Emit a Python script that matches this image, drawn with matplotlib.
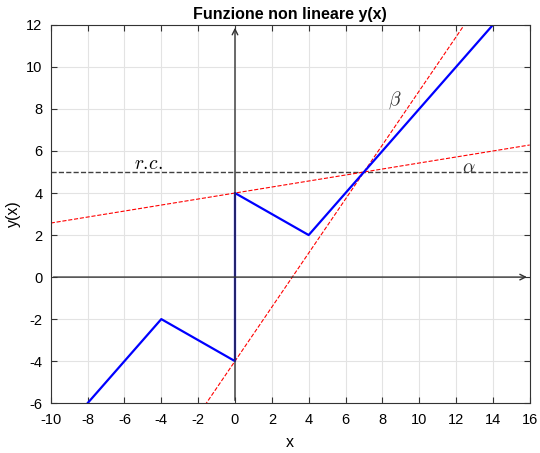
import numpy as np
import matplotlib
matplotlib.use('Agg')
import matplotlib.pyplot as plt

plt.rcParams['font.family'] = ['Liberation Sans', 'DejaVu Sans']
plt.rcParams['mathtext.fontset'] = 'cm'
plt.rcParams['axes.unicode_minus'] = False

# piecewise function y(x)
x_f = [-8, -4, 0, 0, 4, 14]
y_f = [-6, -2, -4, 4, 2, 12]

# tangent lines through the fixed point (7, 5)
x_lines = [-10, 16]
alpha_q, alpha_m = 4, 1 / 7
beta_q, beta_m = -4, 9 / 7
y_rc = 5

x_ticks = list(range(-10, 17, 2))
y_ticks = list(range(-6, 13, 2))

fig = plt.figure(figsize=(5.4, 4.53), dpi=100)
ax = fig.add_axes([0.094, 0.110, 0.887, 0.835])

ax.grid(True, color='#e3e3e3', linewidth=0.8)
ax.set_axisbelow(True)

xl = np.array(x_lines, dtype=float)
ax.plot(xl, [y_rc, y_rc], '--', color='#404040', linewidth=1.0)
ax.plot(xl, alpha_q + alpha_m * xl, '--', color='red', linewidth=0.8)
ax.plot(xl, beta_q + beta_m * xl, '--', color='red', linewidth=0.8)
ax.plot(x_f, y_f, color='blue', linewidth=1.6)

# cartesian axes with arrows
ax.annotate('', xy=(16, 0), xytext=(-10, 0),
            arrowprops=dict(arrowstyle='->', color='#333333', lw=1.0))
ax.annotate('', xy=(0, 12), xytext=(0, -6),
            arrowprops=dict(arrowstyle='->', color='#333333', lw=1.0))

ax.text(-5.5, 5.15, r'$r.\!c.$', fontsize=14)
ax.text(8.3, 8.2, r'$\beta$', fontsize=14, color='#333333')
ax.text(12.3, 4.95, r'$\alpha$', fontsize=14, color='#333333')

ax.set_xlim(-10, 16)
ax.set_ylim(-6, 12)
ax.set_xticks(x_ticks)
ax.set_yticks(y_ticks)
ax.tick_params(direction='in', top=True, right=True, labelsize=10.5,
               color='#333333', length=4)
ax.tick_params(axis='x', pad=7)
ax.tick_params(axis='y', pad=6)
for s in ax.spines.values():
    s.set_color('#333333')
    s.set_linewidth(0.8)

ax.set_xlabel('x', fontsize=11.5, labelpad=6)
ax.set_ylabel('y(x)', fontsize=11.5, labelpad=4)
ax.set_title('Funzione non lineare y(x)', fontsize=11.5, fontweight='bold', pad=4)

fig.savefig('out.png', dpi=100)
